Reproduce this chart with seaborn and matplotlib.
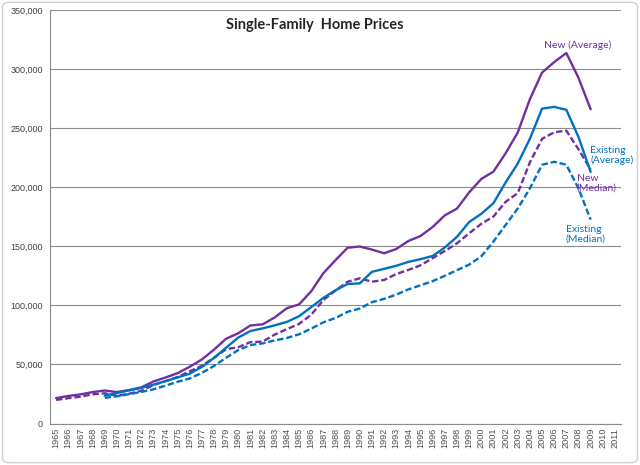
import numpy as np
import pandas as pd
import matplotlib
matplotlib.use("Agg")
import matplotlib.pyplot as plt
import matplotlib.ticker as mticker
from matplotlib.patches import FancyBboxPatch
import seaborn as sns

# values
years_new = list(range(1965, 2010))
new_avg = [21500, 23300, 24600, 26600, 27900, 26600, 28300, 30500, 35500, 38900,
           42600, 48000, 54200, 62500, 71800, 76400, 83000, 83900, 89800, 97600,
           100800, 111900, 127200, 138300, 148800, 149800, 147200, 144100, 147700, 154500,
           158700, 166400, 176200, 181900, 195600, 207000, 213200, 228700, 246300, 274500,
           297000, 305900, 313600, 292600, 266000]
new_med = [20000, 21400, 22700, 24700, 25600, 23400, 25200, 27600, 32500, 35900,
           39300, 44200, 48800, 55700, 62900, 64600, 68900, 69300, 75300, 79900,
           84300, 92000, 104500, 112500, 120000, 122900, 120000, 121500, 126500, 130000,
           133900, 140000, 146000, 152500, 161000, 169000, 175200, 187600, 195000, 221000,
           240900, 246500, 247900, 232100, 215000]

years_existing = list(range(1969, 2010))
existing_avg = [23700, 25700, 28000, 30100, 32900, 35800, 39000, 42200, 47900, 55500,
                64200, 72800, 78300, 80500, 83100, 86000, 90800, 98500, 106300, 112800,
                118100, 118600, 128400, 130900, 133500, 136800, 139100, 141800, 149000, 158000,
                170500, 177500, 186500, 204000, 220000, 241000, 266500, 268000, 265500, 242500,
                213000]
existing_med = [21800, 23000, 24800, 26700, 28900, 32000, 35300, 38100, 42900, 48700,
                55700, 62200, 66400, 67800, 70300, 72400, 75500, 80300, 85600, 89300,
                94600, 97300, 102700, 105500, 109100, 113500, 117000, 120500, 125000, 129800,
                134500, 141500, 154000, 168000, 182000, 199000, 219000, 221500, 219000, 199000,
                172500]

axis_years = list(range(1965, 2012))

purple = "#7030A0"
blue = "#0070C0"
grid_gray = "#8c8c8c"

frames = []
for yrs, vals, kind, stat in [(years_new, new_avg, "New", "Average"),
                              (years_new, new_med, "New", "Median"),
                              (years_existing, existing_avg, "Existing", "Average"),
                              (years_existing, existing_med, "Existing", "Median")]:
    frames.append(pd.DataFrame({"year": yrs, "price": vals, "kind": kind, "stat": stat}))
df = pd.concat(frames, ignore_index=True)

sns.set_style("white")
plt.rcParams["font.family"] = ["Liberation Sans", "DejaVu Sans"]

fig = plt.figure(figsize=(6.4, 4.65), dpi=100)
ax = fig.add_axes([50 / 640, 1 - 423.5 / 465, 571 / 640, 413.5 / 465])

sns.lineplot(data=df, x="year", y="price", hue="kind", style="stat",
             palette={"New": purple, "Existing": blue},
             dashes={"Average": "", "Median": (2.7, 1.2)},
             linewidth=1.7, legend=False, ax=ax, zorder=3)

ax.set_xlim(1964.5, 2011.5)
ax.set_ylim(0, 350000)
ax.set_yticks(range(0, 350001, 50000))
ax.yaxis.set_major_formatter(mticker.FuncFormatter(lambda v, p: f"{int(v):,}"))
ax.set_xticks(axis_years)
ax.set_xticklabels([str(y) for y in axis_years], rotation=90)
ax.set_xticks([y + 0.5 for y in range(1964, 2012)], minor=True)
ax.tick_params(axis="x", which="major", length=0, pad=3, labelsize=6.6, labelcolor="#505050")
ax.tick_params(axis="x", which="minor", length=3.5, width=0.8, color=grid_gray, direction="out")
ax.tick_params(axis="y", which="major", length=3, width=0.8, color=grid_gray, direction="out",
               pad=2, labelsize=6.5, labelcolor="#404040")
ax.grid(axis="y", color=grid_gray, linewidth=0.8)
ax.set_axisbelow(True)
ax.set_xlabel("")
ax.set_ylabel("")
for side in ["top", "right"]:
    ax.spines[side].set_visible(False)
for side in ["left", "bottom"]:
    ax.spines[side].set_color(grid_gray)
    ax.spines[side].set_linewidth(0.8)

ax.text(0.464, 0.964, "Single-Family  Home Prices", transform=ax.transAxes,
        ha="center", va="center", fontsize=10.5, fontweight="bold", family="Lato")

lab = dict(fontsize=7.5, family="Lato", linespacing=1.05)
ax.text(2007.9, 320600, "New (Average)", color=purple, ha="center", va="center", **lab)
ax.text(2008.95, 227000, "Existing\n(Average)", color=blue, ha="left", va="center", **lab)
ax.text(2007.87, 203000, "New\n(Median)", color=purple, ha="left", va="center", **lab)
ax.text(2006.97, 160000, "Existing\n(Median)", color=blue, ha="left", va="center", **lab)

fig.patches.append(FancyBboxPatch((0.004, 0.005), 0.992, 0.99, boxstyle="round,pad=0,rounding_size=0.01",
                                  transform=fig.transFigure, fill=False, edgecolor="#d0d0d0", linewidth=1))

fig.savefig("out.png", dpi=100)
